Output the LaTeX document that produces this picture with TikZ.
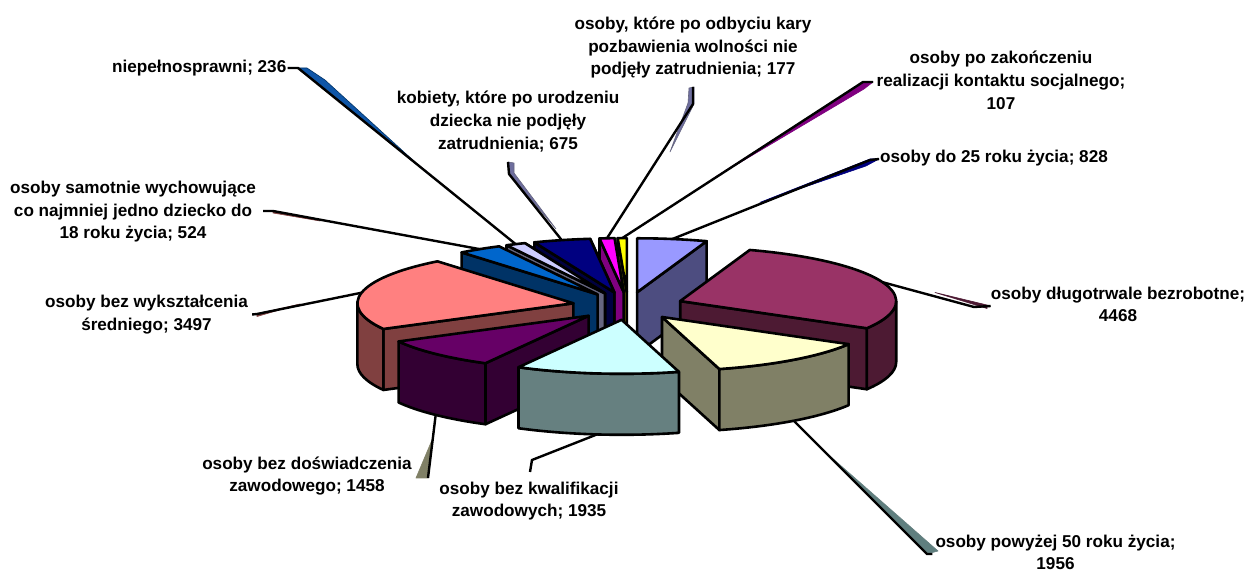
\documentclass[tikz,border=0pt]{standalone}
\usepackage{fontspec}
\setmainfont{Liberation Sans}
\usetikzlibrary{calc}
\definecolor{c1}{HTML}{9999FF}\definecolor{s1}{HTML}{4D4D80}
\definecolor{c2}{HTML}{993366}\definecolor{s2}{HTML}{4D1A33}
\definecolor{c3}{HTML}{FFFFCC}\definecolor{s3}{HTML}{808066}
\definecolor{c4}{HTML}{CCFFFF}\definecolor{s4}{HTML}{668080}
\definecolor{c5}{HTML}{660066}\definecolor{s5}{HTML}{330033}
\definecolor{c6}{HTML}{FF8080}\definecolor{s6}{HTML}{804040}
\definecolor{c7}{HTML}{0066CC}\definecolor{s7}{HTML}{003366}
\definecolor{c8}{HTML}{CCCCFF}\definecolor{s8}{HTML}{666680}
\definecolor{c9}{HTML}{000080}\definecolor{s9}{HTML}{000040}
\definecolor{c10}{HTML}{FF00FF}\definecolor{s10}{HTML}{800080}
\definecolor{c11}{HTML}{FFFF00}\definecolor{s11}{HTML}{808000}
\definecolor{slvblue}{HTML}{0F56A8}
\definecolor{slvgray}{HTML}{6E6E9E}
\definecolor{slvteal}{HTML}{5F7F7F}
\def\RX{216}\def\RY{54}\def\HH{61}
% apex x, apex y, angle, colour
\newcommand\pwall[4]{\filldraw[pieedge,fill=#4] (#1,#2) -- ({#1+\RX*cos(#3)},{#2+\RY*sin(#3)}) -- ({#1+\RX*cos(#3)},{#2+\RY*sin(#3)-\HH}) -- (#1,{#2-\HH}) -- cycle;}
% apex x, apex y, from angle, to angle, colour
\newcommand\pside[5]{\filldraw[pieedge,fill=#5] ({#1+\RX*cos(#3)},{#2+\RY*sin(#3)}) arc[start angle=#3,end angle=#4,x radius=\RX,y radius=\RY] -- ++(0,-\HH) arc[start angle=#4,end angle=#3,x radius=\RX,y radius=\RY] -- cycle;}
\newcommand\ptop[5]{\filldraw[pieedge,fill=#5] (#1,#2) -- ({#1+\RX*cos(#3)},{#2+\RY*sin(#3)}) arc[start angle=#3,end angle=#4,x radius=\RX,y radius=\RY] -- cycle;}
% name, apex x, apex y, angle, drop
\newcommand\prim[5]{\coordinate (#1) at ({#2+\RX*cos(#4)},{#3+\RY*sin(#4)-#5});}
\begin{document}
\begin{tikzpicture}[x=1bp,y=1bp,
  pieedge/.style={draw=black,line width=2.6bp,line join=round},
  leader/.style={draw=black,line width=2.4bp,line join=miter},
  sliver/.style={line width=0.6bp,line join=round},
  lab/.style={font=\fontsize{17.2}{22.7}\selectfont\bfseries,align=center,inner sep=0pt}]
\useasboundingbox (0,0) rectangle (1249,572);
\fill[white] (0,0) rectangle (1249,572);

% ---- pie slices (back to front) ----
% kontrakt socjalny
\pwall{626.8}{279.9}{92.429}{s11}
\ptop{626.8}{279.9}{92.429}{90}{c11}
% wiezniowie
\pwall{623.7}{279.9}{92.429}{s10}
\pwall{623.7}{279.9}{96.446}{s10}
\ptop{623.7}{279.9}{96.446}{92.429}{c10}
% do 25
\pwall{637.1}{279.7}{71.207}{s1}
\ptop{637.1}{279.7}{90}{71.207}{c1}
% kobiety
\pwall{614.4}{279.5}{96.446}{s9}
\pwall{614.4}{279.5}{111.767}{s9}
\ptop{614.4}{279.5}{111.767}{96.446}{c9}
% niepelnosprawni
\pwall{605.0}{278.7}{111.767}{s8}
\pwall{605.0}{278.7}{117.123}{s8}
\ptop{605.0}{278.7}{117.123}{111.767}{c8}
% samotnie
\pwall{597.6}{277.6}{129.017}{s7}
\ptop{597.6}{277.6}{129.017}{117.123}{c7}
% dlugotrwale
\pwall{680.2}{270.9}{-30.204}{s2}
\pside{680.2}{270.9}{0}{-30.204}{s2}
\ptop{680.2}{270.9}{71.207}{-30.204}{c2}
% wyksztalcenie
\pwall{573.4}{268.7}{-151.612}{s6}
\pside{573.4}{268.7}{-151.612}{-180}{s6}
\ptop{573.4}{268.7}{-151.612}{-230.983}{c6}
% doswiadczenie
\pwall{588.6}{256.2}{-118.519}{s5}
\pside{588.6}{256.2}{-118.519}{-151.612}{s5}
\ptop{588.6}{256.2}{-118.519}{-151.612}{c5}
% powyzej 50
\pwall{662.0}{255.0}{-74.6}{s3}
\pside{662.0}{255.0}{-30.204}{-74.6}{s3}
\ptop{662.0}{255.0}{-30.204}{-74.6}{c3}
% kwalifikacje
\pside{621.6}{252.2}{-74.6}{-118.519}{s4}
\ptop{621.6}{252.2}{-74.6}{-118.519}{c4}

% ---- rim anchors of the leader lines ----
\prim{r1}{637.1}{279.7}{80.6}{0}
\prim{r2}{680.2}{270.9}{20.5}{0}
\prim{r3}{662.0}{255.0}{-52.4}{\HH}
\prim{r4}{621.6}{252.2}{-96.56}{\HH}
\prim{r5}{588.6}{256.2}{-135.07}{\HH}
\prim{r6}{573.4}{268.7}{168.7}{0}
\prim{r7}{597.6}{277.6}{123.07}{0}
\prim{r8}{605.0}{278.7}{114.44}{0}
\prim{r9}{614.4}{279.5}{104.11}{0}
\prim{r10}{623.7}{279.9}{94.44}{0}
\prim{r11}{626.8}{279.9}{91.21}{0}

% ---- labels ----
\node[lab,anchor=east] (labA) at (286.5,504) {\strut niepełnosprawni; 236};
\node[lab] (labB) at (508,450) {\strut kobiety, które po urodzeniu\\\strut dziecka nie podjęły\\\strut zatrudnienia; 675};
\node[lab] (labC) at (693,524.5) {\strut osoby, które po odbyciu kary\\\strut pozbawienia wolności nie\\\strut podjęły zatrudnienia; 177};
\node[lab] (labD) at (1001,490) {\strut osoby po zakończeniu\\\strut realizacji kontaktu socjalnego;\\\strut 107};
\node[lab,anchor=west] (labE) at (880,414) {\strut osoby do 25 roku życia; 828};
\node[lab] (labF) at (1118,266) {\strut osoby długotrwale bezrobotne;\\\strut 4468};
\node[lab] (labG) at (1055.5,18) {\strut osoby powyżej 50 roku życia;\\\strut 1956};
\node[lab] (labH) at (529,71) {\strut osoby bez kwalifikacji\\\strut zawodowych; 1935};
\node[lab] (labI) at (307,96) {\strut osoby bez doświadczenia\\\strut zawodowego; 1458};
\node[lab] (labJ) at (146.5,257.5) {\strut osoby bez wykształcenia\\\strut średniego; 3497};
\node[lab] (labK) at (133,360.5) {\strut osoby samotnie wychowujące\\\strut co najmniej jedno dziecko do\\\strut 18 roku życia; 524};

% ---- leader bends ----
\coordinate (aB) at (298,504);
\coordinate (bA) at (508,410);
\coordinate (bB) at (509,398);
\coordinate (cA) at (693,485);
\coordinate (cB) at (693,468);
\coordinate (dA) at (873,490);
\coordinate (dB) at (863,490);
\coordinate (eA) at (879,413);
\coordinate (eB) at (870,412);
\coordinate (fB) at (974,265);
\coordinate (gB) at (927,18);
\coordinate (hB) at (532,112);
\coordinate (hA) at (530,100);
\coordinate (iA) at (428,94);
\coordinate (jB) at (257,258);
\coordinate (kA) at (263,361);
\coordinate (kB) at (273,361);

% ---- coloured slivers beside the leaders ----
\filldraw[sliver,fill=slvblue,draw=s7] (298,504) -- (307,504) -- (325,492) -- (427,399) -- cycle;
\filldraw[sliver,fill=slvgray,draw=s8] (508,410) -- (514,409) -- (514,399) -- (556,343) -- (509,398) -- cycle;
\filldraw[sliver,fill=slvgray,draw=s8] (689,484) -- (694,485) -- (694,468) -- (670,420) -- (688,469) -- cycle;
\filldraw[sliver,fill=s10,draw=s10] (863,490) -- (873,490) -- (864,483) -- (712,392.8) -- cycle;
\filldraw[sliver,fill=c9,draw=c9] (870,413) -- (879,413) -- (866,406) -- (760,369.6) -- cycle;
\filldraw[sliver,fill=s2,draw=s2] (935,279.5) -- (987,267) -- (987,263.5) -- cycle;
\filldraw[sliver,fill=slvteal,draw=s4] (823,122) -- (938,21) -- (927,18) -- cycle;
\filldraw[sliver,fill=s3,draw=s3] (432,132) -- (416,94) -- (428,94) -- cycle;
\filldraw[sliver,fill=s6,draw=s6] (300,268) -- (257,258) -- (257,255.5) -- cycle;
\filldraw[sliver,fill=s6,draw=s6] (273,361) -- (320,351) -- (273,359) -- cycle;

% ---- leader lines ----
\draw[leader] ([xshift=1bp]labA.east) -- (aB) -- (r8);
\draw[leader] (bA) -- (bB) -- (r9);
\draw[leader] (cA) -- (cB) -- (r10);
\draw[leader] (dA) -- (dB) -- (r11);
\draw[leader] (eA) -- (eB) -- (r1);
\draw[leader] (r2) -- (fB) -- (labF.west);
\draw[leader] (r3) -- (gB) -- ([xshift=-3bp]labG.west);
\draw[leader] (r4) -- (hB) -- (hA);
\draw[leader] (r5) -- (iA);
\draw[leader] (r6) -- (jB) -- ([xshift=4bp]labJ.east);
\draw[leader] (kA) -- (kB) -- (r7);
\end{tikzpicture}
\end{document}
